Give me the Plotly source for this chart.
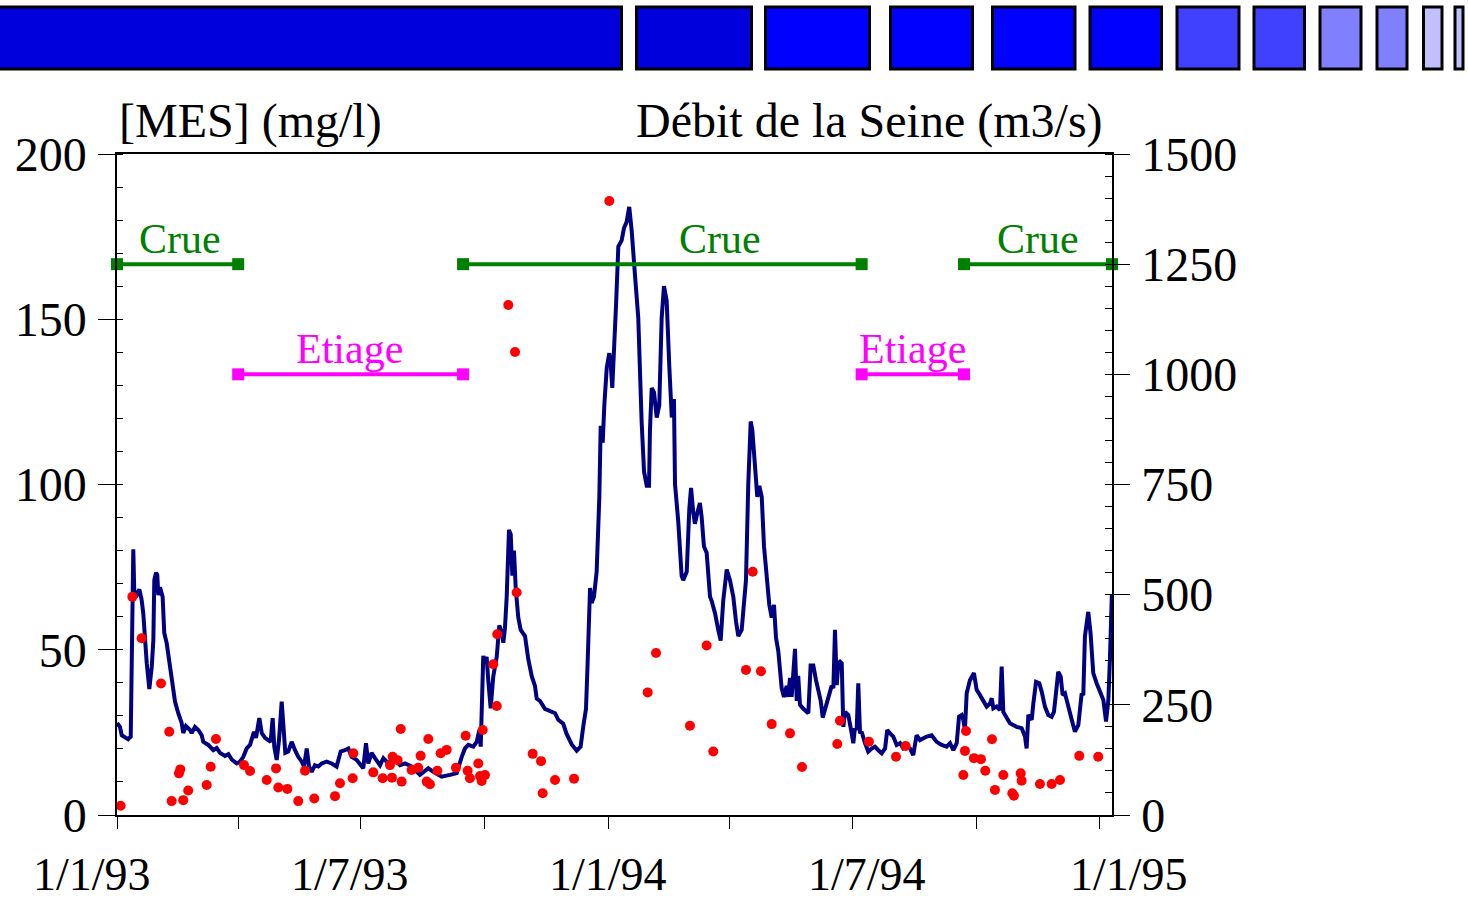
import pandas as pd
import plotly.graph_objects as go

ORIGINE = "1993-01-01"

# ---------------- DATA ----------------
# Débit de la Seine (m3/s) : jours depuis le 1/1/93
debit_jour = [
    0, 2.2, 3.5, 5.9, 8.2, 10.2, 12.1, 12.8, 14.1, 16.6, 18.3, 19.5, 20.8, 22.1, 24, 25.8, 27, 27.7, 29, 29.9,
    30.7, 31.9, 33.9, 35.1, 36.9, 39.4, 41.4, 43.1, 45.5, 48,
    49.2, 51.2, 54.2, 55.5, 57.9, 60.4, 62.9, 64.1, 67.8, 71.5, 74, 76.5, 80.2, 82.7, 85.2, 88.9, 91.3, 93.8, 96.3, 98.8,
    101.7, 103.2, 105.7, 107.5, 109.9, 112.4, 114.1, 115.6, 116.8, 118.6,
    120.3, 122.3, 123.5, 125, 127.2, 129.7, 132.2, 134.6, 137.2, 138.9, 140.9, 142.6, 144.6, 147, 149.5, 152, 155.7, 159.4, 163.1, 166.1,
    169.3, 171.8, 174.3, 178, 182.9, 184.9, 186.6, 189.1, 191.6, 195.3,
    197.8, 201.5, 205.2, 210.2, 213.9, 218.8, 225, 231.2, 234.9, 241.1, 247.3, 252.3, 256, 258.4, 260.9, 264.6, 267.1, 269.1, 270.1, 272,
    273.3, 274.5, 275.7, 277.5, 279.4, 282, 283.9,
    285.7, 286.9, 288.1, 289.4, 291.1, 292.4, 293.6, 294.8, 296.1, 298, 299.8, 303, 305.4, 308, 310.4, 311.7, 314.1, 317.8, 321.6, 325.3,
    327.7, 331.4, 333.9, 337.7, 341.4, 344.3, 346.3, 348.3, 349.5, 351.3,
    352.5, 354.2, 356.2, 358.2, 359.2, 360.7, 361.9, 363.7, 365.6, 366.6, 367.8, 369.1, 370.6, 372.3, 374.8, 376.5, 378.5, 380.4, 382.2, 384.7,
    387.1, 389.6, 391.4, 393.4, 395.1, 395.8, 397.1, 398.8, 400.8, 402.7,
    404.5, 406.2, 408.2, 410.2, 412, 413.6, 414.4, 416.8, 419.3, 420.5, 423.1, 425, 426.3, 428, 429.2, 430.9, 432.9, 434.2, 435.9, 437.9,
    440.4, 441.6, 444.1, 446.5, 448.3, 450.2, 452.8, 455.2, 457.7, 459.7,
    461.4, 463.9, 465.6, 467.1, 468.8, 470.6, 471.8, 473, 474.5, 475.5, 477, 478.8, 480.5, 482.5, 484.4, 486.2, 487.9, 489.4, 491.1, 493.6,
    495.3, 497.3, 498.5, 499.8, 501, 503.5, 504.8, 505.9, 507.2, 509.7,
    513.4, 515.1, 517.1, 519.1, 520.8, 522.6, 524.1, 525.8, 528.3, 530.7, 532, 533.2, 534.5, 535.7, 536.9, 538.2, 539.4, 540.7, 543.1, 544.3,
    545.6, 546.8, 548, 549.3, 550.5, 551.8, 553, 555.5, 557.9, 560.5,
    562.9, 565.4, 567.9, 570.4, 572, 574.1, 576.5, 579, 581.5, 583.9, 586.4, 588.9, 591.3, 593.8, 596.3, 601.3, 605, 608.7, 612.4, 616.1,
    618.6, 621.1, 623.6, 625.3, 627.3, 628.5, 629.7, 631, 633.4, 636.4,
    638.4, 640.9, 643.3, 645.8, 648.3, 649.6, 650.8, 653.3, 655.7, 657, 658.2, 660.7, 663.1, 668.1, 671.8, 674.3, 675.5, 676.8, 679.3, 680.5,
    682.5, 684.9, 686.7, 689.1, 691.6, 694.1, 695.8, 697.3, 699, 700.8,
    702.3, 704, 706.5, 709, 711.4, 713.9, 716.4, 717.6, 718.8, 721.3, 723, 725, 727.5, 730, 732.5, 734.5, 736.2, 737.4, 738.8,
]
debit_m3s = [
    209, 200, 181, 175, 172, 178, 603, 511, 495, 512, 488, 458, 397, 344, 286, 336, 397, 533, 550, 545,
    499, 517, 495, 413, 390, 336, 291, 257, 231, 209,
    186, 202, 193, 186, 200, 193, 181, 166, 159, 147, 152, 141, 134, 138, 126, 117, 121, 132, 151, 159,
    189, 175, 220, 186, 175, 170, 166, 220, 155, 125,
    170, 257, 186, 141, 144, 166, 147, 132, 121, 110, 151, 110, 98, 113, 110, 117, 121, 117, 110, 144,
    147, 151, 132, 125, 106, 163, 117, 141, 129, 113,
    129, 117, 129, 113, 117, 110, 91, 106, 98, 87, 91, 95, 132, 151, 159, 155, 166, 193, 155, 361,
    344, 359, 306, 242, 314, 359, 430,
    415, 391, 424, 495, 647, 637, 543, 600, 515, 448, 420, 406, 354, 315, 293, 264, 259, 241, 236, 231,
    216, 207, 184, 160, 146, 155, 202, 241, 345, 515,
    481, 495, 552, 722, 883, 845, 930, 1015, 1048, 1026, 969, 1044, 1157, 1290, 1304, 1332, 1346, 1380, 1327, 1224,
    1129, 893, 779, 747, 747, 874, 969, 959, 902, 930,
    1129, 1200, 1167, 1015, 902, 944, 751, 666, 543, 533, 552, 694, 742, 685, 661, 685, 708, 675, 609, 595,
    495, 486, 458, 420, 396, 486, 557, 533, 495, 439,
    406, 420, 495, 533, 751, 893, 874, 817, 779, 722, 747, 722, 609, 552, 477, 448, 477, 402, 372, 288,
    268, 293, 268, 311, 268, 377, 259, 316, 250, 241,
    231, 339, 339, 306, 283, 259, 221, 241, 264, 293, 288, 420, 295, 345, 348, 344, 200, 234, 227, 200,
    185, 163, 197, 193, 299, 185, 189, 163, 144, 151,
    155, 147, 140, 151, 193, 185, 178, 159, 163, 151, 155, 151, 136, 181, 170, 178, 181, 166, 159, 155,
    163, 147, 163, 223, 227, 216, 193, 276, 306, 322,
    284, 272, 261, 246, 253, 265, 242, 246, 238, 337, 234, 219, 208, 200, 197, 178, 151, 227, 216, 253,
    302, 299, 280, 246, 227, 223, 234, 276, 325, 314,
    272, 276, 242, 216, 189, 204, 276, 272, 405, 461, 412, 322, 299, 280, 261, 212, 261, 356, 500,
]

# [MES] (mg/l) : jours depuis le 1/1/93
mes_jour = [
    2.7, 11.4, 18.3, 32.7, 38.8, 40.6, 46, 47, 49.2, 52.9,
    66.6, 69.6, 73.5, 94.3, 98.8, 111.2, 118.1, 119.8, 126.5, 134.6,
    139.6, 146.5, 161.9, 165.6, 175, 175.5, 190.3, 197.3, 202.7, 204.7,
    204.2, 208.4, 210.7, 211.4, 218.8, 223.7, 225.5, 230, 231.2, 232.4,
    237.9, 240.4, 244.8, 251.7, 258.9, 260.4, 262.1, 268.3, 269.6, 270.8,
    271.6, 273.3, 279.4, 282, 282.4, 290.6, 295.6, 296.8, 308.7, 314.9,
    316.1, 325.3, 339.4, 365.6, 394.1, 400.3, 425.5, 437.9, 442.8, 467.1,
    472.1, 478.2, 486.2, 499.8, 508.7, 534.9, 536.9, 558.4, 578.5, 585.7,
    628.5, 629.7, 630.5, 636.4, 641.6, 644.8, 649.8, 652, 658.2, 664.9,
    666.1, 671.1, 671.8, 685.4, 694.1, 700.3, 714.6, 728.7,
]
mes_mgl = [
    2.8, 66, 53.5, 39.8, 25.2, 4.2, 12.6, 13.8, 4.5, 7.4,
    9.1, 14.6, 23, 15.1, 13.3, 10.6, 14.1, 8.3, 7.9, 4.2,
    13.4, 5.0, 5.7, 9.6, 11.1, 18.7, 12.9, 11.1, 15.1, 17.6,
    11.3, 16.6, 26, 10.1, 13.6, 14.3, 17.9, 10.1, 23, 9.3,
    13.4, 18.7, 19.7, 14.3, 24, 13.4, 11.1, 15.6, 11.8, 10.3,
    25.7, 12.1, 45.6, 33, 54.7, 154.3, 140.1, 67.3, 18.5, 16.3,
    6.6, 10.6, 11, 185.8, 37.1, 49, 27, 51.3, 19.2, 43.9,
    73.6, 43.5, 27.5, 24.7, 14.5, 21.5, 28.5, 22.2, 17.6, 20.9,
    12.1, 19.4, 25.4, 17.2, 16.9, 13.4, 22.9, 7.6, 12.1, 6.6,
    5.8, 12.6, 10.4, 9.4, 9.4, 10.6, 17.9, 17.6,
]

# Périodes hydrologiques (niveau sur l'axe des débits)
crue_debut = ["1993-01-01", "1993-09-15", "1994-09-22"]
crue_fin = ["1993-04-01", "1994-07-08", "1995-01-09 22:00"]
crue_label_x = ["1993-02-17", "1994-03-25", "1994-11-16"]
etiage_debut = ["1993-04-01", "1994-07-08"]
etiage_fin = ["1993-09-15", "1994-09-22"]
etiage_label_x = ["1993-06-23", "1994-08-15"]
niveau_crue = 1250
niveau_etiage = 1000

x_range = ["1993-01-01", "1995-01-09 22:00"]
x_tick_vals = ["1993-01-01", "1993-04-01", "1993-07-01", "1993-10-01", "1994-01-01",
               "1994-04-01", "1994-07-01", "1994-10-01", "1995-01-01"]
x_tick_labels = ["1/1/93", "1/7/93", "1/1/94", "1/7/94", "1/1/95"]
mes_ticks = [0, 50, 100, 150, 200]
debit_ticks = [0, 250, 500, 750, 1000, 1250, 1500]

# ---------------- LAYOUT ----------------
W, H = 1468, 899
L, R, T, B = 117, 1112, 154, 815
FONT = "Liberation Serif"


def px(xp):
    return (xp - L) / (R - L)


def py(yp):
    return (B - yp) / (B - T)


def to_dates(jours):
    return pd.Timestamp(ORIGINE) + pd.to_timedelta(jours, unit="D")


fig = go.Figure()

fig.add_trace(go.Scatter(
    x=to_dates(debit_jour), y=debit_m3s, mode="lines", yaxis="y",
    line=dict(color="#000080", width=4), showlegend=False, hoverinfo="skip"))

for d0, d1 in zip(crue_debut, crue_fin):
    fig.add_trace(go.Scatter(
        x=[d0, d1], y=[niveau_crue, niveau_crue], mode="lines+markers", yaxis="y",
        line=dict(color="#008000", width=4),
        marker=dict(symbol="square", size=12, color="#008000"),
        cliponaxis=False, showlegend=False))
for d0, d1 in zip(etiage_debut, etiage_fin):
    fig.add_trace(go.Scatter(
        x=[d0, d1], y=[niveau_etiage, niveau_etiage], mode="lines+markers", yaxis="y",
        line=dict(color="#FF00FF", width=4),
        marker=dict(symbol="square", size=12, color="#FF00FF"),
        cliponaxis=False, showlegend=False))

fig.add_trace(go.Scatter(
    x=to_dates(mes_jour), y=mes_mgl, mode="markers", yaxis="y2",
    marker=dict(color="#FF0000", size=10), showlegend=False))

axis_common = dict(showgrid=False, zeroline=False, automargin=False,
                   tickcolor="black", tickwidth=1.2)

fig.update_layout(
    width=W, height=H, template="none",
    margin=dict(l=L, r=W - R, t=T, b=H - B, pad=0),
    paper_bgcolor="white", plot_bgcolor="white",
    font=dict(family=FONT, size=48, color="black"),
    showlegend=False,
    xaxis=dict(type="date", range=x_range, tickvals=x_tick_vals, ticks="outside",
               ticklen=12, showticklabels=False, showline=True, linecolor="black",
               linewidth=1.5, mirror=True, **axis_common),
    xaxis2=dict(type="date", range=x_range, overlaying="x", anchor="y",
                tickvals=x_tick_vals, ticks="inside", ticklen=18,
                showticklabels=False, showline=False, **axis_common),
    yaxis=dict(range=[0, 1500], side="right", anchor="x", tickvals=debit_ticks,
               ticks="outside", ticklen=16, ticklabelstandoff=2,
               tickfont=dict(family=FONT, size=48, color="black"),
               showline=True, linecolor="black", linewidth=1.5,
               minor=dict(ticks="inside", ticklen=7, dtick=50, tick0=0,
                          tickcolor="black", tickwidth=1),
               **axis_common),
    yaxis2=dict(range=[0, 200], side="left", overlaying="y", anchor="x",
                tickvals=mes_ticks, ticks="outside", ticklen=17, ticklabelstandoff=2,
                tickfont=dict(family=FONT, size=48, color="black"),
                showline=True, linecolor="black", linewidth=1.5,
                minor=dict(ticks="inside", ticklen=6, dtick=10, tick0=0,
                           tickcolor="black", tickwidth=1),
                **axis_common),
    yaxis3=dict(range=[0, 1500], side="right", overlaying="y", anchor="x",
                tickvals=debit_ticks, ticks="inside", ticklen=15,
                showticklabels=False, showline=False, **axis_common),
    yaxis4=dict(range=[0, 200], side="left", overlaying="y", anchor="x",
                tickvals=mes_ticks, ticks="inside", ticklen=15,
                showticklabels=False, showline=False, **axis_common),
)

# decorative header bar (template band)
bandeau = [
    (-4, 621.5, "#0000DD"), (636.5, 751.5, "#0000DD"), (765.5, 869.5, "#0000FF"),
    (890.5, 972.5, "#0000FF"), (992.5, 1075, "#0000FF"), (1090, 1161.5, "#0000FF"),
    (1177, 1239, "#4040FF"), (1254, 1304.5, "#4040FF"), (1320, 1361, "#8080FF"),
    (1377, 1407, "#8080FF"), (1423.5, 1442, "#C0C0FF"), (1455, 1463, "#C0C0FF"),
]
for x0, x1, c in bandeau:
    fig.add_shape(type="rect", xref="paper", yref="paper",
                  x0=px(x0), x1=px(x1), y0=py(69), y1=py(7),
                  fillcolor=c, line=dict(color="black", width=3), layer="above")

# axis titles
fig.add_annotation(text="[MES] (mg/l)", xref="paper", yref="paper", x=px(117), y=py(121),
                   xanchor="left", yanchor="middle", showarrow=False,
                   font=dict(family=FONT, size=48, color="black"))
fig.add_annotation(text="Débit de la Seine (m3/s)", xref="paper", yref="paper",
                   x=px(1105), y=py(121), xanchor="right", yanchor="middle", showarrow=False,
                   font=dict(family=FONT, size=48, color="black"))

# x tick labels (spread like the original slide)
x_label_px = [92, 350, 608, 867, 1129]
for lab, xp in zip(x_tick_labels, x_label_px):
    fig.add_annotation(text=lab, xref="paper", yref="paper", x=px(xp), y=py(874),
                       xanchor="center", yanchor="middle", showarrow=False,
                       font=dict(family=FONT, size=46, color="black"))

# period labels
for xd in crue_label_x:
    fig.add_annotation(text="Crue", x=xd, y=niveau_crue, xref="x", yref="y",
                       xanchor="center", yanchor="bottom", showarrow=False,
                       font=dict(family=FONT, size=42, color="#008000"))
for xd in etiage_label_x:
    fig.add_annotation(text="Etiage", x=xd, y=niveau_etiage, xref="x", yref="y",
                       xanchor="center", yanchor="bottom", showarrow=False,
                       font=dict(family=FONT, size=42, color="#FF00FF"))

fig.write_html("out.html", config={"displayModeBar": False},
               post_script="document.body.style.margin='0';document.body.style.overflow='hidden';")
